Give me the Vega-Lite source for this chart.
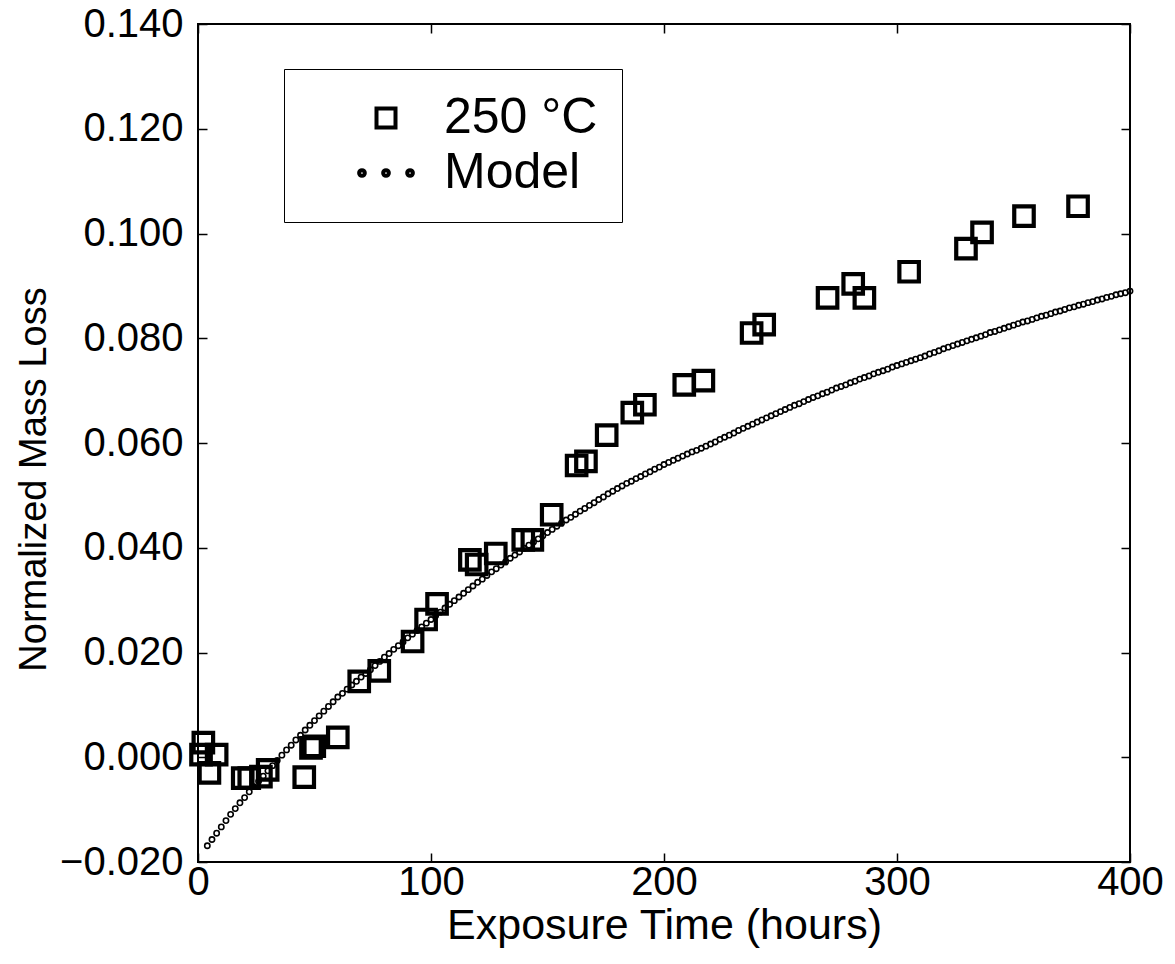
{
  "$schema": "https://vega.github.io/schema/vega-lite/v6.json",
  "width": 932,
  "height": 838,
  "autosize": {"type": "none"},
  "padding": {"left": 198, "top": 24, "right": 45, "bottom": 102},
  "background": "white",
  "config": {
    "view": {"stroke": "black", "strokeWidth": 2},
    "font": "Liberation Sans",
    "axis": {
      "domain": false,
      "grid": false,
      "ticks": true,
      "tickColor": "black",
      "tickWidth": 1.5,
      "tickSize": 9,
      "offset": -9,
      "labelFont": "Liberation Sans",
      "labelFontSize": 40,
      "labelColor": "black",
      "labelFlush": false,
      "labelOverlap": false,
      "titleFont": "Liberation Sans",
      "titleFontWeight": "normal",
      "titleColor": "black"
    }
  },
  "layer": [
    {
      "mark": {"type": "rule", "color": "black", "strokeWidth": 1.5},
      "encoding": {
        "y": {
          "datum": 0,
          "type": "quantitative",
          "scale": {"domain": [-0.02, 0.14], "nice": false, "zero": false},
          "axis": {
            "orient": "left",
            "offset": -9,
            "tickSize": 9,
            "title": "Normalized Mass Loss",
            "titleFontSize": 38,
            "titlePadding": 6,
            "titleY": 455,
            "values": [-0.02, 0, 0.02, 0.04, 0.06, 0.08, 0.1, 0.12, 0.14],
            "format": ".3f",
            "labelPadding": 15
          }
        }
      }
    },
    {
      "data": {
        "values": [
          {"t": 1.3, "loss": 0.0005, "series": "250 °C"},
          {"t": 2.3, "loss": 0.0028, "series": "250 °C"},
          {"t": 4.9, "loss": -0.0030, "series": "250 °C"},
          {"t": 8.0, "loss": 0.0005, "series": "250 °C"},
          {"t": 19.2, "loss": -0.0040, "series": "250 °C"},
          {"t": 22.0, "loss": -0.0040, "series": "250 °C"},
          {"t": 27.0, "loss": -0.0037, "series": "250 °C"},
          {"t": 29.9, "loss": -0.0024, "series": "250 °C"},
          {"t": 45.6, "loss": -0.0038, "series": "250 °C"},
          {"t": 48.5, "loss": 0.0018, "series": "250 °C"},
          {"t": 49.9, "loss": 0.0021, "series": "250 °C"},
          {"t": 60.0, "loss": 0.0038, "series": "250 °C"},
          {"t": 69.2, "loss": 0.0145, "series": "250 °C"},
          {"t": 77.8, "loss": 0.0165, "series": "250 °C"},
          {"t": 92.1, "loss": 0.0221, "series": "250 °C"},
          {"t": 97.9, "loss": 0.0263, "series": "250 °C"},
          {"t": 102.6, "loss": 0.0293, "series": "250 °C"},
          {"t": 116.7, "loss": 0.0377, "series": "250 °C"},
          {"t": 119.6, "loss": 0.0368, "series": "250 °C"},
          {"t": 127.8, "loss": 0.0389, "series": "250 °C"},
          {"t": 139.6, "loss": 0.0415, "series": "250 °C"},
          {"t": 143.5, "loss": 0.0415, "series": "250 °C"},
          {"t": 151.8, "loss": 0.0463, "series": "250 °C"},
          {"t": 162.5, "loss": 0.0557, "series": "250 °C"},
          {"t": 166.5, "loss": 0.0565, "series": "250 °C"},
          {"t": 175.4, "loss": 0.0615, "series": "250 °C"},
          {"t": 186.4, "loss": 0.0658, "series": "250 °C"},
          {"t": 191.8, "loss": 0.0673, "series": "250 °C"},
          {"t": 208.7, "loss": 0.0711, "series": "250 °C"},
          {"t": 216.9, "loss": 0.0719, "series": "250 °C"},
          {"t": 237.6, "loss": 0.0810, "series": "250 °C"},
          {"t": 243.0, "loss": 0.0826, "series": "250 °C"},
          {"t": 270.2, "loss": 0.0877, "series": "250 °C"},
          {"t": 281.2, "loss": 0.0904, "series": "250 °C"},
          {"t": 286.0, "loss": 0.0877, "series": "250 °C"},
          {"t": 305.2, "loss": 0.0927, "series": "250 °C"},
          {"t": 329.6, "loss": 0.0971, "series": "250 °C"},
          {"t": 336.5, "loss": 0.1002, "series": "250 °C"},
          {"t": 354.5, "loss": 0.1033, "series": "250 °C"},
          {"t": 377.7, "loss": 0.1052, "series": "250 °C"}
        ]
      },
      "mark": {"type": "point", "filled": false, "size": 380, "strokeWidth": 4.2, "color": "black", "opacity": 1},
      "encoding": {
        "x": {
          "field": "t",
          "type": "quantitative",
          "scale": {"domain": [0, 400], "nice": false, "zero": false},
          "axis": {
            "orient": "bottom",
            "offset": -9,
            "tickSize": 9,
            "title": "Exposure Time (hours)",
            "titleFontSize": 43,
            "titlePadding": 2,
            "values": [0, 100, 200, 300, 400],
            "labelPadding": 0
          }
        },
        "y": {"field": "loss", "type": "quantitative", "axis": null},
        "shape": {
          "field": "series",
          "type": "nominal",
          "scale": {
            "domain": ["250 °C", "Model"],
            "range": ["square", "M-2.83,0A0.3,0.3 0 1 0 -2.23,0A0.3,0.3 0 1 0 -2.83,0ZM-0.3,0A0.3,0.3 0 1 0 0.3,0A0.3,0.3 0 1 0 -0.3,0ZM2.23,0A0.3,0.3 0 1 0 2.83,0A0.3,0.3 0 1 0 2.23,0Z"]
          },
          "legend": {
            "orient": "none",
            "legendX": 86,
            "legendY": 45,
            "title": null,
            "padding": 24,
            "strokeColor": "black",
            "fillColor": "white",
            "labelFont": "Liberation Sans",
            "labelFontSize": 50,
            "labelColor": "black",
            "symbolSize": 361,
            "symbolStrokeWidth": 4,
            "symbolStrokeColor": "black",
            "symbolFillColor": "transparent",
            "symbolOffset": 53,
            "labelOffset": 33,
            "rowPadding": 5,
            "encode": {
              "legend": {"update": {"strokeWidth": {"value": 1.5}}},
              "symbols": {
                "update": {"strokeWidth": {"signal": "datum.value === 'Model' ? 1.2 : 4"}}
              }
            }
          }
        }
      }
    },
    {
      "data": {
        "values": [
          {"t": 4, "m": -0.0169}, {"t": 6, "m": -0.0157}, {"t": 8, "m": -0.0145}, {"t": 10, "m": -0.0133},
          {"t": 12, "m": -0.0121}, {"t": 14, "m": -0.0109}, {"t": 16, "m": -0.0098}, {"t": 18, "m": -0.0087},
          {"t": 20, "m": -0.0077}, {"t": 22, "m": -0.0066}, {"t": 24, "m": -0.0056}, {"t": 26, "m": -0.0046},
          {"t": 28, "m": -0.0036}, {"t": 30, "m": -0.0026}, {"t": 32, "m": -0.0016}, {"t": 34, "m": -0.0006},
          {"t": 36, "m": 0.0004}, {"t": 38, "m": 0.0014}, {"t": 40, "m": 0.0023}, {"t": 42, "m": 0.0033},
          {"t": 44, "m": 0.0042}, {"t": 46, "m": 0.0052}, {"t": 48, "m": 0.0061}, {"t": 50, "m": 0.0070},
          {"t": 52, "m": 0.0079}, {"t": 54, "m": 0.0088}, {"t": 56, "m": 0.0097}, {"t": 58, "m": 0.0106},
          {"t": 60, "m": 0.0115}, {"t": 62, "m": 0.0122}, {"t": 64, "m": 0.0130}, {"t": 66, "m": 0.0138},
          {"t": 68, "m": 0.0145}, {"t": 70, "m": 0.0153}, {"t": 72, "m": 0.0160}, {"t": 74, "m": 0.0167},
          {"t": 76, "m": 0.0175}, {"t": 78, "m": 0.0183}, {"t": 80, "m": 0.0191}, {"t": 82, "m": 0.0198},
          {"t": 84, "m": 0.0206}, {"t": 86, "m": 0.0213}, {"t": 88, "m": 0.0220}, {"t": 90, "m": 0.0228},
          {"t": 92, "m": 0.0235}, {"t": 94, "m": 0.0242}, {"t": 96, "m": 0.0249}, {"t": 98, "m": 0.0256},
          {"t": 100, "m": 0.0263}, {"t": 102, "m": 0.0270}, {"t": 104, "m": 0.0277}, {"t": 106, "m": 0.0285},
          {"t": 108, "m": 0.0292}, {"t": 110, "m": 0.0299}, {"t": 112, "m": 0.0306}, {"t": 114, "m": 0.0313},
          {"t": 116, "m": 0.0320}, {"t": 118, "m": 0.0327}, {"t": 120, "m": 0.0334}, {"t": 122, "m": 0.0340},
          {"t": 124, "m": 0.0347}, {"t": 126, "m": 0.0354}, {"t": 128, "m": 0.0360}, {"t": 130, "m": 0.0367},
          {"t": 132, "m": 0.0373}, {"t": 134, "m": 0.0380}, {"t": 136, "m": 0.0386}, {"t": 138, "m": 0.0392},
          {"t": 140, "m": 0.0399}, {"t": 142, "m": 0.0405}, {"t": 144, "m": 0.0411}, {"t": 146, "m": 0.0417},
          {"t": 148, "m": 0.0423}, {"t": 150, "m": 0.0429}, {"t": 152, "m": 0.0435}, {"t": 154, "m": 0.0441},
          {"t": 156, "m": 0.0447}, {"t": 158, "m": 0.0453}, {"t": 160, "m": 0.0458}, {"t": 162, "m": 0.0464},
          {"t": 164, "m": 0.0470}, {"t": 166, "m": 0.0475}, {"t": 168, "m": 0.0481}, {"t": 170, "m": 0.0486},
          {"t": 172, "m": 0.0492}, {"t": 174, "m": 0.0497}, {"t": 176, "m": 0.0503}, {"t": 178, "m": 0.0508},
          {"t": 180, "m": 0.0513}, {"t": 182, "m": 0.0518}, {"t": 184, "m": 0.0523}, {"t": 186, "m": 0.0527},
          {"t": 188, "m": 0.0532}, {"t": 190, "m": 0.0536}, {"t": 192, "m": 0.0541}, {"t": 194, "m": 0.0545},
          {"t": 196, "m": 0.0550}, {"t": 198, "m": 0.0554}, {"t": 200, "m": 0.0559}, {"t": 202, "m": 0.0563},
          {"t": 204, "m": 0.0567}, {"t": 206, "m": 0.0571}, {"t": 208, "m": 0.0575}, {"t": 210, "m": 0.0579},
          {"t": 212, "m": 0.0583}, {"t": 214, "m": 0.0586}, {"t": 216, "m": 0.0590}, {"t": 218, "m": 0.0594},
          {"t": 220, "m": 0.0598}, {"t": 222, "m": 0.0602}, {"t": 224, "m": 0.0607}, {"t": 226, "m": 0.0611},
          {"t": 228, "m": 0.0615}, {"t": 230, "m": 0.0619}, {"t": 232, "m": 0.0624}, {"t": 234, "m": 0.0628},
          {"t": 236, "m": 0.0632}, {"t": 238, "m": 0.0636}, {"t": 240, "m": 0.0640}, {"t": 242, "m": 0.0644},
          {"t": 244, "m": 0.0648}, {"t": 246, "m": 0.0652}, {"t": 248, "m": 0.0656}, {"t": 250, "m": 0.0660},
          {"t": 252, "m": 0.0664}, {"t": 254, "m": 0.0668}, {"t": 256, "m": 0.0672}, {"t": 258, "m": 0.0675},
          {"t": 260, "m": 0.0679}, {"t": 262, "m": 0.0683}, {"t": 264, "m": 0.0687}, {"t": 266, "m": 0.0690},
          {"t": 268, "m": 0.0694}, {"t": 270, "m": 0.0697}, {"t": 272, "m": 0.0701}, {"t": 274, "m": 0.0705},
          {"t": 276, "m": 0.0708}, {"t": 278, "m": 0.0711}, {"t": 280, "m": 0.0715}, {"t": 282, "m": 0.0718},
          {"t": 284, "m": 0.0722}, {"t": 286, "m": 0.0725}, {"t": 288, "m": 0.0728}, {"t": 290, "m": 0.0732},
          {"t": 292, "m": 0.0735}, {"t": 294, "m": 0.0738}, {"t": 296, "m": 0.0741}, {"t": 298, "m": 0.0745},
          {"t": 300, "m": 0.0748}, {"t": 302, "m": 0.0751}, {"t": 304, "m": 0.0754}, {"t": 306, "m": 0.0757},
          {"t": 308, "m": 0.0760}, {"t": 310, "m": 0.0763}, {"t": 312, "m": 0.0766}, {"t": 314, "m": 0.0770},
          {"t": 316, "m": 0.0773}, {"t": 318, "m": 0.0776}, {"t": 320, "m": 0.0780}, {"t": 322, "m": 0.0783},
          {"t": 324, "m": 0.0786}, {"t": 326, "m": 0.0789}, {"t": 328, "m": 0.0792}, {"t": 330, "m": 0.0795},
          {"t": 332, "m": 0.0798}, {"t": 334, "m": 0.0801}, {"t": 336, "m": 0.0804}, {"t": 338, "m": 0.0807},
          {"t": 340, "m": 0.0811}, {"t": 342, "m": 0.0813}, {"t": 344, "m": 0.0816}, {"t": 346, "m": 0.0819},
          {"t": 348, "m": 0.0822}, {"t": 350, "m": 0.0825}, {"t": 352, "m": 0.0828}, {"t": 354, "m": 0.0831},
          {"t": 356, "m": 0.0833}, {"t": 358, "m": 0.0836}, {"t": 360, "m": 0.0839}, {"t": 362, "m": 0.0842},
          {"t": 364, "m": 0.0844}, {"t": 366, "m": 0.0847}, {"t": 368, "m": 0.0850}, {"t": 370, "m": 0.0852},
          {"t": 372, "m": 0.0855}, {"t": 374, "m": 0.0858}, {"t": 376, "m": 0.0860}, {"t": 378, "m": 0.0863},
          {"t": 380, "m": 0.0865}, {"t": 382, "m": 0.0868}, {"t": 384, "m": 0.0870}, {"t": 386, "m": 0.0873},
          {"t": 388, "m": 0.0875}, {"t": 390, "m": 0.0878}, {"t": 392, "m": 0.0880}, {"t": 394, "m": 0.0883},
          {"t": 396, "m": 0.0885}, {"t": 398, "m": 0.0887}, {"t": 400, "m": 0.0890}
        ]
      },
      "mark": {"type": "point", "shape": "circle", "filled": false, "size": 28, "strokeWidth": 1.6, "color": "black", "opacity": 1},
      "encoding": {
        "x": {
          "field": "t",
          "type": "quantitative",
          "axis": {"orient": "top", "offset": -9, "tickSize": 9, "labels": false, "title": null, "values": [0, 100, 200, 300, 400]}
        },
        "y": {
          "field": "m",
          "type": "quantitative",
          "axis": {"orient": "right", "offset": -9, "tickSize": 9, "labels": false, "title": null, "values": [-0.02, 0, 0.02, 0.04, 0.06, 0.08, 0.1, 0.12, 0.14]}
        }
      }
    }
  ],
  "resolve": {"axis": {"x": "independent", "y": "independent"}}
}
